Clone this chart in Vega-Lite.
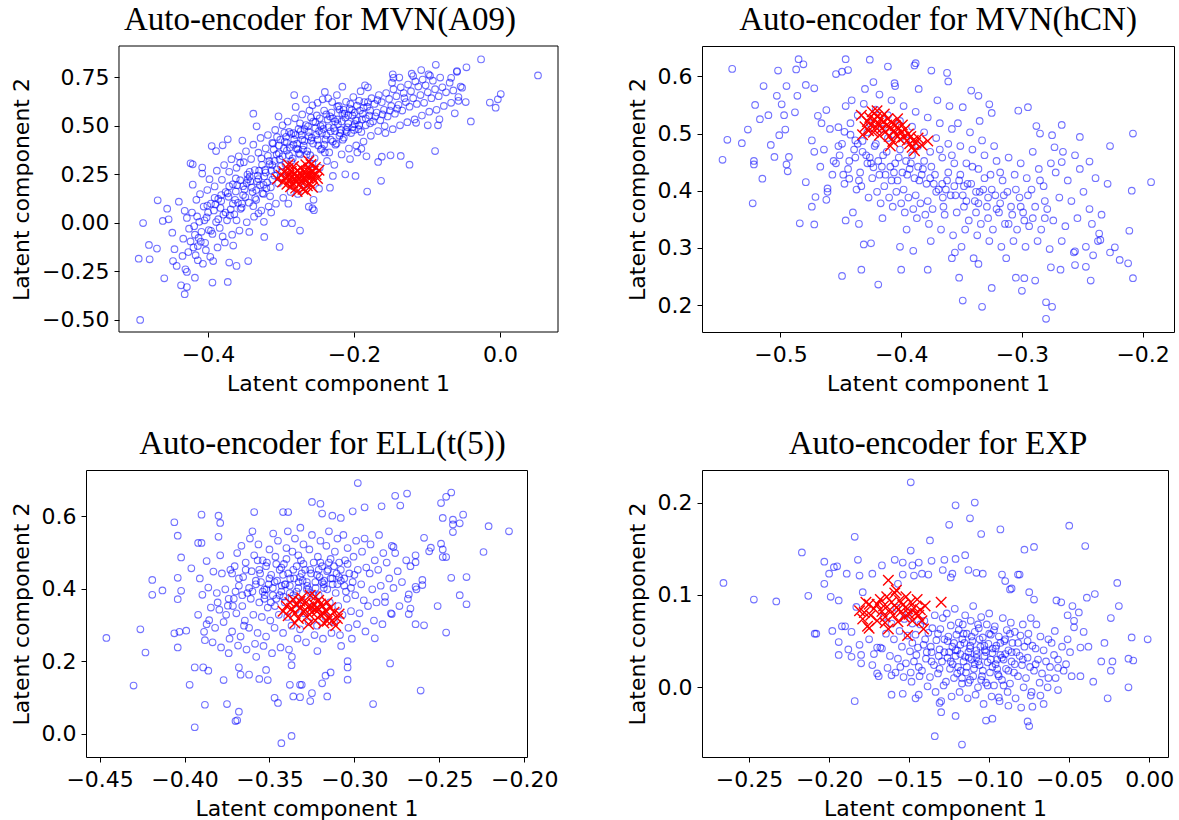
{
"$schema": "https://vega.github.io/schema/vega-lite/v6.json",
"background": "white",
"padding": {"left": 9, "top": 3, "right": 0, "bottom": 0},
"config": {
 "view": {"stroke": "#000", "strokeWidth": 1},
 "axis": {"grid": false, "domain": false, "tickColor": "#000", "tickSize": 5, "tickWidth": 1, "labelFont": "DejaVu Sans", "labelFontSize": 22, "labelColor": "#000", "labelPadding": 5, "titleFont": "DejaVu Sans", "titleFontSize": 22, "titleFontWeight": "normal", "titleColor": "#000", "labelOverlap": false, "labelFlush": false},
 "axisY": {"titlePadding": 8},
 "axisX": {"titlePadding": 8, "labelPadding": 7},
 "title": {"font": "Liberation Serif", "fontSize": 33, "fontWeight": "normal", "color": "#000", "offset": 9, "baseline": "alphabetic"}
},
"datasets": {
"b1": [
{"x":-0.493,"y":-0.502},{"x":-0.495,"y":-0.186},{"x":-0.489,"y":-0.002},{"x":-0.481,"y":-0.115},{"x":-0.480,"y":-0.189},{"x":-0.470,"y":-0.134},{"x":-0.469,"y":0.115},{"x":-0.460,"y":-0.287},{"x":-0.462,"y":0.009},{"x":-0.456,"y":0.072},{"x":-0.454,"y":0.017},{"x":-0.449,"y":-0.052},{"x":-0.448,"y":-0.198},{"x":-0.446,"y":-0.137},{"x":-0.443,"y":-0.223},{"x":-0.440,"y":0.108},{"x":-0.437,"y":-0.323},{"x":-0.432,"y":-0.369},{"x":-0.429,"y":-0.332},{"x":-0.435,"y":-0.172},{"x":-0.431,"y":-0.241},{"x":-0.429,"y":-0.254},{"x":-0.424,"y":0.306},{"x":-0.421,"y":0.301},{"x":-0.418,"y":-0.284},{"x":-0.414,"y":-0.194},{"x":-0.408,"y":0.284},{"x":-0.395,"y":0.395},{"x":-0.389,"y":0.369},{"x":-0.380,"y":0.399},{"x":-0.373,"y":0.430},{"x":-0.394,"y":-0.309},{"x":-0.373,"y":-0.306},{"x":-0.371,"y":-0.206},{"x":-0.361,"y":-0.223},{"x":-0.345,"y":-0.198},{"x":-0.338,"y":0.562},{"x":-0.302,"y":-0.125},{"x":-0.274,"y":-0.041},{"x":-0.285,"y":-0.003},{"x":-0.295,"y":-0.003},{"x":-0.323,"y":-0.074},{"x":-0.282,"y":0.658},{"x":-0.257,"y":0.074},{"x":-0.255,"y":0.064},{"x":-0.262,"y":0.082},{"x":-0.248,"y":0.175},{"x":-0.233,"y":0.180},{"x":-0.229,"y":0.241},{"x":-0.212,"y":0.249},{"x":-0.198,"y":0.241},{"x":-0.182,"y":0.160},{"x":-0.167,"y":0.313},{"x":-0.163,"y":0.216},{"x":-0.162,"y":0.340},{"x":-0.150,"y":0.347},{"x":-0.136,"y":0.344},{"x":-0.124,"y":0.299},{"x":-0.089,"y":0.369},{"x":-0.040,"y":0.522},{"x":-0.062,"y":0.564},{"x":-0.088,"y":0.814},{"x":-0.046,"y":0.801},{"x":-0.026,"y":0.842},{"x":0.052,"y":0.759},{"x":-0.014,"y":0.619},{"x":-0.006,"y":0.593},{"x":-0.003,"y":0.636},{"x":0.001,"y":0.663},{"x":-0.052,"y":0.696},{"x":-0.059,"y":0.782},{"x":-0.057,"y":0.648},{"x":-0.085,"y":0.502},{"x":-0.083,"y":0.533},{"x":-0.099,"y":0.502},{"x":-0.115,"y":0.515},{"x":-0.119,"y":0.756},{"x":-0.108,"y":0.787},{"x":-0.098,"y":0.765},{"x":-0.067,"y":0.747},{"x":-0.147,"y":0.765},{"x":-0.146,"y":0.747},{"x":-0.185,"y":0.708},{"x":-0.216,"y":0.701},{"x":-0.240,"y":0.674},{"x":-0.243,"y":0.636},{"x":-0.266,"y":0.636},{"x":-0.257,"y":0.605},
{"x":-0.427,"y":-0.152},{"x":-0.434,"y":-0.083},{"x":-0.429,"y":0.024},{"x":-0.432,"y":0.061},{"x":-0.426,"y":-0.031},
{"x":-0.417,"y":-0.168},{"x":-0.424,"y":-0.097},{"x":-0.419,"y":-0.018},{"x":-0.422,"y":0.052},{"x":-0.416,"y":0.118},{"x":-0.421,"y":0.196},{"x":-0.418,"y":-0.062},
{"x":-0.407,"y":-0.212},{"x":-0.414,"y":-0.121},{"x":-0.409,"y":-0.047},{"x":-0.412,"y":0.004},{"x":-0.406,"y":0.083},{"x":-0.411,"y":0.147},{"x":-0.408,"y":0.253},{"x":-0.413,"y":-0.079},
{"x":-0.397,"y":-0.176},{"x":-0.404,"y":-0.104},{"x":-0.399,"y":-0.038},{"x":-0.402,"y":0.027},{"x":-0.396,"y":0.098},{"x":-0.401,"y":0.168},{"x":-0.398,"y":0.224},{"x":-0.403,"y":-0.142},{"x":-0.400,"y":0.052},
{"x":-0.387,"y":-0.128},{"x":-0.394,"y":-0.058},{"x":-0.389,"y":0.003},{"x":-0.392,"y":0.063},{"x":-0.386,"y":0.122},{"x":-0.391,"y":0.187},{"x":-0.388,"y":0.268},{"x":-0.393,"y":-0.198},{"x":-0.390,"y":0.094},
{"x":-0.377,"y":-0.102},{"x":-0.384,"y":-0.027},{"x":-0.379,"y":0.041},{"x":-0.382,"y":0.112},{"x":-0.376,"y":0.158},{"x":-0.381,"y":0.221},{"x":-0.378,"y":0.297},{"x":-0.383,"y":0.076},{"x":-0.380,"y":-0.071},
{"x":-0.367,"y":-0.062},{"x":-0.374,"y":0.012},{"x":-0.369,"y":0.068},{"x":-0.372,"y":0.133},{"x":-0.366,"y":0.198},{"x":-0.371,"y":0.262},{"x":-0.368,"y":0.327},{"x":-0.373,"y":0.151},{"x":-0.370,"y":0.037},{"x":-0.3655,"y":-0.118},
{"x":-0.357,"y":-0.041},{"x":-0.364,"y":0.043},{"x":-0.359,"y":0.102},{"x":-0.362,"y":0.161},{"x":-0.356,"y":0.219},{"x":-0.361,"y":0.283},{"x":-0.358,"y":0.342},{"x":-0.363,"y":0.118},{"x":-0.360,"y":0.193},{"x":-0.3555,"y":0.071},
{"x":-0.347,"y":0.002},{"x":-0.354,"y":0.078},{"x":-0.349,"y":0.132},{"x":-0.352,"y":0.188},{"x":-0.346,"y":0.248},{"x":-0.351,"y":0.312},{"x":-0.348,"y":0.368},{"x":-0.353,"y":0.423},{"x":-0.350,"y":0.171},{"x":-0.3455,"y":0.224},{"x":-0.3535,"y":0.098},
{"x":-0.337,"y":0.031},{"x":-0.344,"y":0.103},{"x":-0.339,"y":0.158},{"x":-0.342,"y":0.213},{"x":-0.336,"y":0.271},{"x":-0.341,"y":0.328},{"x":-0.338,"y":0.402},{"x":-0.343,"y":0.238},{"x":-0.340,"y":0.181},{"x":-0.3355,"y":0.127},{"x":-0.3435,"y":-0.048},
{"x":-0.327,"y":0.062},{"x":-0.334,"y":0.118},{"x":-0.329,"y":0.193},{"x":-0.332,"y":0.242},{"x":-0.326,"y":0.298},{"x":-0.331,"y":0.361},{"x":-0.328,"y":0.437},{"x":-0.333,"y":0.212},{"x":-0.330,"y":0.268},{"x":-0.3255,"y":0.152},{"x":-0.3335,"y":0.497},
{"x":-0.317,"y":0.083},{"x":-0.324,"y":0.148},{"x":-0.319,"y":0.207},{"x":-0.322,"y":0.272},{"x":-0.316,"y":0.318},{"x":-0.321,"y":0.383},{"x":-0.318,"y":0.452},{"x":-0.323,"y":0.238},{"x":-0.320,"y":0.177},{"x":-0.3155,"y":0.302},{"x":-0.3235,"y":0.004},
{"x":-0.307,"y":0.098},{"x":-0.314,"y":0.182},{"x":-0.309,"y":0.243},{"x":-0.312,"y":0.297},{"x":-0.306,"y":0.352},{"x":-0.311,"y":0.408},{"x":-0.308,"y":0.478},{"x":-0.313,"y":0.268},{"x":-0.310,"y":0.377},{"x":-0.3055,"y":0.442},{"x":-0.3135,"y":0.052},
{"x":-0.297,"y":0.128},{"x":-0.304,"y":0.203},{"x":-0.299,"y":0.262},{"x":-0.302,"y":0.327},{"x":-0.296,"y":0.383},{"x":-0.301,"y":0.428},{"x":-0.298,"y":0.502},{"x":-0.303,"y":0.358},{"x":-0.300,"y":0.291},{"x":-0.2955,"y":0.463},{"x":-0.3035,"y":0.548},
{"x":-0.287,"y":0.158},{"x":-0.294,"y":0.302},{"x":-0.289,"y":0.348},{"x":-0.292,"y":0.412},{"x":-0.286,"y":0.458},{"x":-0.291,"y":0.521},{"x":-0.288,"y":0.388},{"x":-0.293,"y":0.443},{"x":-0.290,"y":0.098},
{"x":-0.277,"y":0.148},{"x":-0.284,"y":0.331},{"x":-0.279,"y":0.382},{"x":-0.282,"y":0.428},{"x":-0.276,"y":0.483},{"x":-0.281,"y":0.538},{"x":-0.278,"y":0.407},{"x":-0.283,"y":0.462},{"x":-0.280,"y":0.597},{"x":-0.2755,"y":0.358},
{"x":-0.267,"y":0.197},{"x":-0.274,"y":0.352},{"x":-0.269,"y":0.398},{"x":-0.272,"y":0.452},{"x":-0.266,"y":0.503},{"x":-0.271,"y":0.558},{"x":-0.268,"y":0.421},{"x":-0.273,"y":0.473},{"x":-0.270,"y":0.377},
{"x":-0.257,"y":0.302},{"x":-0.264,"y":0.368},{"x":-0.259,"y":0.423},{"x":-0.262,"y":0.468},{"x":-0.256,"y":0.521},{"x":-0.261,"y":0.578},{"x":-0.258,"y":0.438},{"x":-0.263,"y":0.497},{"x":-0.260,"y":0.348},{"x":-0.2555,"y":0.118},
{"x":-0.247,"y":0.283},{"x":-0.254,"y":0.332},{"x":-0.249,"y":0.398},{"x":-0.252,"y":0.452},{"x":-0.246,"y":0.498},{"x":-0.251,"y":0.553},{"x":-0.248,"y":0.472},{"x":-0.253,"y":0.518},{"x":-0.250,"y":0.618},{"x":-0.2455,"y":0.377},
{"x":-0.237,"y":0.318},{"x":-0.244,"y":0.382},{"x":-0.239,"y":0.428},{"x":-0.242,"y":0.483},{"x":-0.236,"y":0.532},{"x":-0.241,"y":0.578},{"x":-0.238,"y":0.452},{"x":-0.243,"y":0.503},{"x":-0.240,"y":0.362},{"x":-0.2355,"y":0.641},
{"x":-0.227,"y":0.298},{"x":-0.234,"y":0.362},{"x":-0.229,"y":0.418},{"x":-0.232,"y":0.471},{"x":-0.226,"y":0.522},{"x":-0.231,"y":0.568},{"x":-0.228,"y":0.488},{"x":-0.233,"y":0.548},{"x":-0.230,"y":0.622},{"x":-0.2255,"y":0.402},
{"x":-0.217,"y":0.352},{"x":-0.224,"y":0.408},{"x":-0.219,"y":0.462},{"x":-0.222,"y":0.508},{"x":-0.216,"y":0.562},{"x":-0.221,"y":0.602},{"x":-0.218,"y":0.478},{"x":-0.223,"y":0.532},{"x":-0.220,"y":0.583},{"x":-0.2155,"y":0.428},{"x":-0.2235,"y":0.658},
{"x":-0.207,"y":0.382},{"x":-0.214,"y":0.438},{"x":-0.209,"y":0.492},{"x":-0.212,"y":0.541},{"x":-0.206,"y":0.588},{"x":-0.211,"y":0.623},{"x":-0.208,"y":0.512},{"x":-0.213,"y":0.562},{"x":-0.210,"y":0.468},{"x":-0.2055,"y":0.328},
{"x":-0.197,"y":0.398},{"x":-0.204,"y":0.462},{"x":-0.199,"y":0.508},{"x":-0.202,"y":0.552},{"x":-0.196,"y":0.603},{"x":-0.201,"y":0.648},{"x":-0.198,"y":0.528},{"x":-0.203,"y":0.582},{"x":-0.200,"y":0.478},{"x":-0.1955,"y":0.362},
{"x":-0.187,"y":0.418},{"x":-0.194,"y":0.482},{"x":-0.189,"y":0.532},{"x":-0.192,"y":0.578},{"x":-0.186,"y":0.622},{"x":-0.191,"y":0.678},{"x":-0.188,"y":0.561},{"x":-0.193,"y":0.503},{"x":-0.190,"y":0.381},
{"x":-0.177,"y":0.448},{"x":-0.184,"y":0.502},{"x":-0.179,"y":0.552},{"x":-0.182,"y":0.598},{"x":-0.176,"y":0.642},{"x":-0.181,"y":0.698},{"x":-0.178,"y":0.578},{"x":-0.183,"y":0.342},
{"x":-0.167,"y":0.472},{"x":-0.174,"y":0.522},{"x":-0.169,"y":0.568},{"x":-0.172,"y":0.612},{"x":-0.166,"y":0.658},{"x":-0.171,"y":0.548},{"x":-0.168,"y":0.632},
{"x":-0.157,"y":0.462},{"x":-0.164,"y":0.528},{"x":-0.159,"y":0.582},{"x":-0.162,"y":0.621},{"x":-0.156,"y":0.668},{"x":-0.161,"y":0.558},{"x":-0.158,"y":0.498},
{"x":-0.147,"y":0.482},{"x":-0.154,"y":0.548},{"x":-0.149,"y":0.602},{"x":-0.152,"y":0.638},{"x":-0.146,"y":0.688},{"x":-0.151,"y":0.578},{"x":-0.148,"y":0.722},
{"x":-0.137,"y":0.502},{"x":-0.144,"y":0.562},{"x":-0.139,"y":0.608},{"x":-0.142,"y":0.652},{"x":-0.136,"y":0.698},{"x":-0.141,"y":0.588},{"x":-0.138,"y":0.748},
{"x":-0.127,"y":0.518},{"x":-0.134,"y":0.578},{"x":-0.129,"y":0.622},{"x":-0.132,"y":0.668},{"x":-0.126,"y":0.712},{"x":-0.131,"y":0.642},
{"x":-0.117,"y":0.532},{"x":-0.124,"y":0.598},{"x":-0.119,"y":0.642},{"x":-0.122,"y":0.678},{"x":-0.116,"y":0.728},{"x":-0.121,"y":0.768},
{"x":-0.107,"y":0.552},{"x":-0.114,"y":0.612},{"x":-0.109,"y":0.658},{"x":-0.112,"y":0.702},{"x":-0.106,"y":0.738},
{"x":-0.097,"y":0.572},{"x":-0.104,"y":0.618},{"x":-0.099,"y":0.672},{"x":-0.102,"y":0.708},{"x":-0.096,"y":0.758},
{"x":-0.087,"y":0.582},{"x":-0.094,"y":0.642},{"x":-0.089,"y":0.688},{"x":-0.092,"y":0.732},
{"x":-0.077,"y":0.602},{"x":-0.084,"y":0.652},{"x":-0.079,"y":0.698},{"x":-0.082,"y":0.748},
{"x":-0.067,"y":0.618},{"x":-0.074,"y":0.672},{"x":-0.069,"y":0.722},
{"x":-0.057,"y":0.628},{"x":-0.064,"y":0.682},{"x":-0.059,"y":0.778},
{"x":-0.047,"y":0.622},{"x":-0.054,"y":0.702},
{"x":-0.352,"y":0.142},{"x":-0.347,"y":0.205},{"x":-0.343,"y":0.262},{"x":-0.338,"y":0.085},{"x":-0.334,"y":0.168},{"x":-0.331,"y":0.225},{"x":-0.327,"y":0.331},{"x":-0.324,"y":0.195},{"x":-0.321,"y":0.258},{"x":-0.318,"y":0.345},{"x":-0.315,"y":0.136},{"x":-0.312,"y":0.222},{"x":-0.309,"y":0.318},{"x":-0.306,"y":0.275},{"x":-0.303,"y":0.398},{"x":-0.301,"y":0.232},{"x":-0.298,"y":0.342},{"x":-0.295,"y":0.418},{"x":-0.292,"y":0.372},{"x":-0.289,"y":0.468},{"x":-0.286,"y":0.318},{"x":-0.283,"y":0.402},{"x":-0.280,"y":0.452},{"x":-0.277,"y":0.378},{"x":-0.274,"y":0.512},{"x":-0.271,"y":0.428},{"x":-0.268,"y":0.482},{"x":-0.265,"y":0.352},{"x":-0.262,"y":0.445},{"x":-0.259,"y":0.542},{"x":-0.256,"y":0.408},{"x":-0.253,"y":0.488},{"x":-0.250,"y":0.428},{"x":-0.247,"y":0.538},{"x":-0.244,"y":0.462},{"x":-0.241,"y":0.402},{"x":-0.238,"y":0.558},{"x":-0.235,"y":0.492},{"x":-0.232,"y":0.428},{"x":-0.229,"y":0.538},{"x":-0.226,"y":0.472},{"x":-0.223,"y":0.598},{"x":-0.220,"y":0.448},{"x":-0.217,"y":0.522},{"x":-0.214,"y":0.582},{"x":-0.211,"y":0.478},{"x":-0.208,"y":0.552},{"x":-0.205,"y":0.612},{"x":-0.202,"y":0.492},{"x":-0.199,"y":0.568},{"x":-0.196,"y":0.528},{"x":-0.193,"y":0.628},{"x":-0.190,"y":0.468},{"x":-0.187,"y":0.592},{"x":-0.184,"y":0.538},{"x":-0.181,"y":0.622},{"x":-0.178,"y":0.512},{"x":-0.362,"y":0.228},{"x":-0.366,"y":0.098},{"x":-0.371,"y":0.188},{"x":-0.376,"y":0.052},{"x":-0.382,"y":0.142},{"x":-0.386,"y":0.018},{"x":-0.391,"y":0.128},{"x":-0.396,"y":-0.042},{"x":-0.401,"y":0.088},{"x":-0.405,"y":0.012},{"x":-0.410,"y":-0.098},{"x":-0.415,"y":0.032},{"x":-0.420,"y":-0.128},{"x":-0.356,"y":0.308},{"x":-0.361,"y":0.012},{"x":-0.331,"y":0.048},{"x":-0.312,"y":0.412}
],
"r1": [
{"x":-0.305,"y":0.225},{"x":-0.300,"y":0.245},{"x":-0.298,"y":0.210},{"x":-0.296,"y":0.262},{"x":-0.294,"y":0.232},{"x":-0.292,"y":0.198},{"x":-0.291,"y":0.278},{"x":-0.289,"y":0.245},{"x":-0.288,"y":0.222},{"x":-0.287,"y":0.185},{"x":-0.286,"y":0.265},{"x":-0.285,"y":0.238},{"x":-0.284,"y":0.205},{"x":-0.283,"y":0.290},{"x":-0.282,"y":0.252},{"x":-0.281,"y":0.228},{"x":-0.280,"y":0.178},{"x":-0.279,"y":0.212},{"x":-0.278,"y":0.268},{"x":-0.277,"y":0.240},{"x":-0.276,"y":0.195},{"x":-0.275,"y":0.225},{"x":-0.274,"y":0.258},{"x":-0.273,"y":0.282},{"x":-0.272,"y":0.208},{"x":-0.271,"y":0.242},{"x":-0.270,"y":0.172},{"x":-0.269,"y":0.230},{"x":-0.268,"y":0.265},{"x":-0.267,"y":0.215},{"x":-0.266,"y":0.298},{"x":-0.265,"y":0.248},{"x":-0.264,"y":0.190},{"x":-0.263,"y":0.232},{"x":-0.262,"y":0.275},{"x":-0.261,"y":0.205},{"x":-0.260,"y":0.255},{"x":-0.259,"y":0.300},{"x":-0.258,"y":0.238},{"x":-0.257,"y":0.182},{"x":-0.256,"y":0.265},{"x":-0.255,"y":0.220},{"x":-0.253,"y":0.285},{"x":-0.252,"y":0.248},{"x":-0.250,"y":0.228},{"x":-0.262,"y":0.318},{"x":-0.290,"y":0.300},{"x":-0.266,"y":0.165},{"x":-0.278,"y":0.160},{"x":-0.248,"y":0.270}
],
"b2": [
{"x":-0.548,"y":0.454},{"x":-0.544,"y":0.489},{"x":-0.540,"y":0.613},{"x":-0.532,"y":0.483},{"x":-0.527,"y":0.507},{"x":-0.523,"y":0.378},{"x":-0.522,"y":0.452},{"x":-0.522,"y":0.446},{"x":-0.521,"y":0.550},{"x":-0.515,"y":0.421},{"x":-0.514,"y":0.583},{"x":-0.517,"y":0.525},{"x":-0.510,"y":0.532},{"x":-0.508,"y":0.480},{"x":-0.505,"y":0.459},{"x":-0.503,"y":0.566},{"x":-0.502,"y":0.610},{"x":-0.501,"y":0.497},{"x":-0.499,"y":0.551},{"x":-0.497,"y":0.532},{"x":-0.496,"y":0.507},{"x":-0.495,"y":0.583},{"x":-0.495,"y":0.446},{"x":-0.494,"y":0.434},{"x":-0.493,"y":0.459},{"x":-0.487,"y":0.612},{"x":-0.486,"y":0.566},{"x":-0.485,"y":0.630},{"x":-0.481,"y":0.621},{"x":-0.488,"y":0.537},{"x":-0.484,"y":0.343},{"x":-0.479,"y":0.585},{"x":-0.479,"y":0.415},{"x":-0.472,"y":0.579},{"x":-0.472,"y":0.341},{"x":-0.471,"y":0.389},{"x":-0.474,"y":0.372},{"x":-0.462,"y":0.384},{"x":-0.461,"y":0.404},{"x":-0.454,"y":0.604},{"x":-0.449,"y":0.608},{"x":-0.446,"y":0.630},{"x":-0.444,"y":0.611},{"x":-0.449,"y":0.251},{"x":-0.446,"y":0.348},{"x":-0.435,"y":0.342},{"x":-0.433,"y":0.262},{"x":-0.431,"y":0.306},{"x":-0.425,"y":0.308},{"x":-0.419,"y":0.236},{"x":-0.426,"y":0.629},{"x":-0.423,"y":0.590},{"x":-0.411,"y":0.617},{"x":-0.405,"y":0.583},{"x":-0.401,"y":0.302},{"x":-0.400,"y":0.262},{"x":-0.390,"y":0.295},{"x":-0.389,"y":0.619},{"x":-0.388,"y":0.623},{"x":-0.378,"y":0.262},{"x":-0.375,"y":0.610},{"x":-0.362,"y":0.606},{"x":-0.361,"y":0.591},{"x":-0.358,"y":0.282},{"x":-0.352,"y":0.248},{"x":-0.349,"y":0.208},{"x":-0.333,"y":0.197},{"x":-0.325,"y":0.230},{"x":-0.336,"y":0.272},{"x":-0.305,"y":0.248},{"x":-0.300,"y":0.225},{"x":-0.298,"y":0.247},{"x":-0.289,"y":0.243},{"x":-0.280,"y":0.205},{"x":-0.280,"y":0.176},{"x":-0.275,"y":0.197},{"x":-0.268,"y":0.262},{"x":-0.276,"y":0.266},{"x":-0.256,"y":0.294},{"x":-0.256,"y":0.270},{"x":-0.247,"y":0.267},{"x":-0.243,"y":0.243},{"x":-0.241,"y":0.287},{"x":-0.235,"y":0.314},{"x":-0.236,"y":0.325},{"x":-0.227,"y":0.478},{"x":-0.223,"y":0.301},{"x":-0.219,"y":0.279},{"x":-0.212,"y":0.273},{"x":-0.211,"y":0.330},{"x":-0.208,"y":0.247},{"x":-0.209,"y":0.400},{"x":-0.208,"y":0.500},{"x":-0.193,"y":0.415},{"x":-0.242,"y":0.342},{"x":-0.244,"y":0.451},{"x":-0.252,"y":0.494},{"x":-0.267,"y":0.515},{"x":-0.295,"y":0.546},{"x":-0.303,"y":0.540},{"x":-0.267,"y":0.450},{"x":-0.273,"y":0.476},{"x":-0.275,"y":0.497},{"x":-0.285,"y":0.500},{"x":-0.288,"y":0.513},{"x":-0.327,"y":0.551},{"x":-0.325,"y":0.536},{"x":-0.336,"y":0.566},{"x":-0.342,"y":0.575},{"x":-0.335,"y":0.522},{"x":-0.349,"y":0.546},
{"x":-0.467,"y":0.442},{"x":-0.474,"y":0.488},{"x":-0.469,"y":0.531},{"x":-0.472,"y":0.468},{"x":-0.466,"y":0.518},
{"x":-0.457,"y":0.428},{"x":-0.464,"y":0.472},{"x":-0.459,"y":0.508},{"x":-0.462,"y":0.541},{"x":-0.456,"y":0.452},{"x":-0.461,"y":0.398},
{"x":-0.447,"y":0.412},{"x":-0.454,"y":0.448},{"x":-0.449,"y":0.482},{"x":-0.452,"y":0.511},{"x":-0.446,"y":0.548},{"x":-0.451,"y":0.462},{"x":-0.448,"y":0.428},
{"x":-0.437,"y":0.402},{"x":-0.444,"y":0.438},{"x":-0.439,"y":0.472},{"x":-0.442,"y":0.498},{"x":-0.436,"y":0.532},{"x":-0.441,"y":0.558},{"x":-0.438,"y":0.458},{"x":-0.443,"y":0.421},{"x":-0.440,"y":0.362},
{"x":-0.427,"y":0.388},{"x":-0.434,"y":0.432},{"x":-0.429,"y":0.462},{"x":-0.432,"y":0.487},{"x":-0.426,"y":0.518},{"x":-0.431,"y":0.552},{"x":-0.428,"y":0.448},{"x":-0.433,"y":0.408},{"x":-0.430,"y":0.578},
{"x":-0.417,"y":0.378},{"x":-0.424,"y":0.422},{"x":-0.419,"y":0.452},{"x":-0.422,"y":0.478},{"x":-0.416,"y":0.508},{"x":-0.421,"y":0.542},{"x":-0.418,"y":0.568},{"x":-0.423,"y":0.441},{"x":-0.420,"y":0.398},{"x":-0.4155,"y":0.352},
{"x":-0.407,"y":0.372},{"x":-0.414,"y":0.408},{"x":-0.409,"y":0.442},{"x":-0.412,"y":0.468},{"x":-0.406,"y":0.498},{"x":-0.411,"y":0.532},{"x":-0.408,"y":0.558},{"x":-0.413,"y":0.428},{"x":-0.410,"y":0.388},{"x":-0.4055,"y":0.588},
{"x":-0.397,"y":0.362},{"x":-0.404,"y":0.398},{"x":-0.399,"y":0.432},{"x":-0.402,"y":0.458},{"x":-0.396,"y":0.488},{"x":-0.401,"y":0.522},{"x":-0.398,"y":0.548},{"x":-0.403,"y":0.418},{"x":-0.400,"y":0.378},{"x":-0.3955,"y":0.332},
{"x":-0.387,"y":0.352},{"x":-0.394,"y":0.388},{"x":-0.389,"y":0.422},{"x":-0.392,"y":0.448},{"x":-0.386,"y":0.478},{"x":-0.391,"y":0.512},{"x":-0.388,"y":0.538},{"x":-0.393,"y":0.438},{"x":-0.390,"y":0.368},{"x":-0.3855,"y":0.578},
{"x":-0.377,"y":0.342},{"x":-0.384,"y":0.378},{"x":-0.379,"y":0.412},{"x":-0.382,"y":0.438},{"x":-0.376,"y":0.468},{"x":-0.381,"y":0.502},{"x":-0.378,"y":0.528},{"x":-0.383,"y":0.428},{"x":-0.380,"y":0.358},{"x":-0.3755,"y":0.312},
{"x":-0.367,"y":0.332},{"x":-0.374,"y":0.368},{"x":-0.369,"y":0.402},{"x":-0.372,"y":0.428},{"x":-0.366,"y":0.458},{"x":-0.371,"y":0.492},{"x":-0.368,"y":0.518},{"x":-0.373,"y":0.412},{"x":-0.370,"y":0.558},{"x":-0.3655,"y":0.388},
{"x":-0.357,"y":0.322},{"x":-0.364,"y":0.358},{"x":-0.359,"y":0.392},{"x":-0.362,"y":0.418},{"x":-0.356,"y":0.448},{"x":-0.361,"y":0.482},{"x":-0.358,"y":0.508},{"x":-0.363,"y":0.402},{"x":-0.360,"y":0.548},{"x":-0.3555,"y":0.292},
{"x":-0.347,"y":0.332},{"x":-0.354,"y":0.362},{"x":-0.349,"y":0.392},{"x":-0.352,"y":0.418},{"x":-0.346,"y":0.448},{"x":-0.351,"y":0.478},{"x":-0.348,"y":0.408},{"x":-0.353,"y":0.518},{"x":-0.350,"y":0.302},
{"x":-0.337,"y":0.322},{"x":-0.344,"y":0.348},{"x":-0.339,"y":0.382},{"x":-0.342,"y":0.412},{"x":-0.336,"y":0.438},{"x":-0.341,"y":0.472},{"x":-0.338,"y":0.398},{"x":-0.343,"y":0.502},{"x":-0.340,"y":0.282},
{"x":-0.327,"y":0.312},{"x":-0.334,"y":0.342},{"x":-0.329,"y":0.372},{"x":-0.332,"y":0.402},{"x":-0.326,"y":0.428},{"x":-0.331,"y":0.462},{"x":-0.328,"y":0.388},{"x":-0.333,"y":0.488},
{"x":-0.317,"y":0.302},{"x":-0.324,"y":0.332},{"x":-0.319,"y":0.362},{"x":-0.322,"y":0.392},{"x":-0.316,"y":0.418},{"x":-0.321,"y":0.452},{"x":-0.318,"y":0.378},{"x":-0.323,"y":0.478},
{"x":-0.307,"y":0.312},{"x":-0.314,"y":0.342},{"x":-0.309,"y":0.372},{"x":-0.312,"y":0.398},{"x":-0.306,"y":0.428},{"x":-0.311,"y":0.458},{"x":-0.308,"y":0.358},{"x":-0.313,"y":0.282},
{"x":-0.297,"y":0.302},{"x":-0.304,"y":0.332},{"x":-0.299,"y":0.362},{"x":-0.302,"y":0.388},{"x":-0.296,"y":0.422},{"x":-0.301,"y":0.448},{"x":-0.298,"y":0.348},
{"x":-0.287,"y":0.312},{"x":-0.294,"y":0.338},{"x":-0.289,"y":0.372},{"x":-0.292,"y":0.402},{"x":-0.286,"y":0.438},{"x":-0.291,"y":0.468},
{"x":-0.277,"y":0.298},{"x":-0.284,"y":0.332},{"x":-0.279,"y":0.368},{"x":-0.282,"y":0.408},{"x":-0.276,"y":0.448},{"x":-0.281,"y":0.352},
{"x":-0.267,"y":0.312},{"x":-0.274,"y":0.348},{"x":-0.269,"y":0.388},{"x":-0.272,"y":0.432},{"x":-0.266,"y":0.468},
{"x":-0.257,"y":0.292},{"x":-0.264,"y":0.338},{"x":-0.259,"y":0.382},{"x":-0.262,"y":0.418},{"x":-0.256,"y":0.462},
{"x":-0.247,"y":0.302},{"x":-0.254,"y":0.352},{"x":-0.249,"y":0.398},{"x":-0.252,"y":0.438},
{"x":-0.237,"y":0.312},{"x":-0.244,"y":0.368},{"x":-0.239,"y":0.422},
{"x":-0.227,"y":0.292},{"x":-0.234,"y":0.358},{"x":-0.229,"y":0.412},
{"x":-0.452,"y":0.478},{"x":-0.447,"y":0.503},{"x":-0.443,"y":0.452},{"x":-0.438,"y":0.488},{"x":-0.435,"y":0.418},{"x":-0.432,"y":0.468},{"x":-0.428,"y":0.502},{"x":-0.425,"y":0.448},{"x":-0.421,"y":0.482},{"x":-0.418,"y":0.428},{"x":-0.415,"y":0.462},{"x":-0.411,"y":0.492},{"x":-0.408,"y":0.418},{"x":-0.405,"y":0.448},{"x":-0.401,"y":0.472},{"x":-0.398,"y":0.402},{"x":-0.395,"y":0.428},{"x":-0.391,"y":0.462},{"x":-0.388,"y":0.392},{"x":-0.385,"y":0.418},{"x":-0.381,"y":0.452},{"x":-0.378,"y":0.382},{"x":-0.375,"y":0.442},{"x":-0.371,"y":0.398},{"x":-0.368,"y":0.472},{"x":-0.365,"y":0.372},{"x":-0.361,"y":0.432},{"x":-0.358,"y":0.462},{"x":-0.355,"y":0.392},{"x":-0.351,"y":0.428},{"x":-0.348,"y":0.372},{"x":-0.345,"y":0.412},{"x":-0.341,"y":0.442},{"x":-0.338,"y":0.362},{"x":-0.335,"y":0.398},{"x":-0.331,"y":0.422},{"x":-0.328,"y":0.352},{"x":-0.325,"y":0.402},{"x":-0.321,"y":0.368},{"x":-0.318,"y":0.432},{"x":-0.315,"y":0.392},{"x":-0.311,"y":0.342},{"x":-0.305,"y":0.402},{"x":-0.301,"y":0.372},{"x":-0.295,"y":0.392},{"x":-0.291,"y":0.352},{"x":-0.285,"y":0.418},{"x":-0.281,"y":0.382},{"x":-0.442,"y":0.518},{"x":-0.436,"y":0.482},{"x":-0.426,"y":0.458},{"x":-0.416,"y":0.442},{"x":-0.406,"y":0.432},{"x":-0.396,"y":0.452},{"x":-0.386,"y":0.442},{"x":-0.376,"y":0.422},{"x":-0.366,"y":0.412},{"x":-0.356,"y":0.408},{"x":-0.346,"y":0.382},{"x":-0.336,"y":0.378}
],
"r2": [
{"x":-0.433,"y":0.532},{"x":-0.432,"y":0.498},{"x":-0.430,"y":0.512},{"x":-0.428,"y":0.521},{"x":-0.427,"y":0.505},{"x":-0.426,"y":0.528},{"x":-0.425,"y":0.515},{"x":-0.424,"y":0.538},{"x":-0.423,"y":0.502},{"x":-0.422,"y":0.524},{"x":-0.421,"y":0.511},{"x":-0.420,"y":0.530},{"x":-0.419,"y":0.518},{"x":-0.418,"y":0.497},{"x":-0.417,"y":0.526},{"x":-0.416,"y":0.509},{"x":-0.415,"y":0.520},{"x":-0.414,"y":0.534},{"x":-0.413,"y":0.503},{"x":-0.412,"y":0.515},{"x":-0.411,"y":0.526},{"x":-0.410,"y":0.495},{"x":-0.409,"y":0.510},{"x":-0.408,"y":0.519},{"x":-0.407,"y":0.486},{"x":-0.406,"y":0.505},{"x":-0.405,"y":0.514},{"x":-0.404,"y":0.498},{"x":-0.403,"y":0.526},{"x":-0.402,"y":0.509},{"x":-0.401,"y":0.490},{"x":-0.400,"y":0.502},{"x":-0.399,"y":0.515},{"x":-0.398,"y":0.494},{"x":-0.397,"y":0.507},{"x":-0.395,"y":0.488},{"x":-0.394,"y":0.499},{"x":-0.393,"y":0.482},{"x":-0.392,"y":0.495},{"x":-0.391,"y":0.476},{"x":-0.390,"y":0.488},{"x":-0.389,"y":0.470},{"x":-0.388,"y":0.484},{"x":-0.386,"y":0.492},{"x":-0.383,"y":0.480},{"x":-0.378,"y":0.487},{"x":-0.409,"y":0.478},{"x":-0.420,"y":0.540}
],
"b3": [
{"x":-0.446,"y":0.264},{"x":-0.430,"y":0.133},{"x":-0.426,"y":0.288},{"x":-0.423,"y":0.224},{"x":-0.419,"y":0.424},{"x":-0.419,"y":0.383},{"x":-0.413,"y":0.395},{"x":-0.406,"y":0.583},{"x":-0.404,"y":0.546},{"x":-0.402,"y":0.486},{"x":-0.406,"y":0.277},{"x":-0.404,"y":0.238},{"x":-0.403,"y":0.281},{"x":-0.404,"y":0.430},{"x":-0.404,"y":0.371},{"x":-0.402,"y":0.394},{"x":-0.396,"y":0.456},{"x":-0.399,"y":0.284},{"x":-0.397,"y":0.135},{"x":-0.394,"y":0.018},{"x":-0.394,"y":0.183},{"x":-0.390,"y":0.604},{"x":-0.392,"y":0.526},{"x":-0.390,"y":0.526},{"x":-0.387,"y":0.476},{"x":-0.389,"y":0.183},{"x":-0.388,"y":0.080},{"x":-0.386,"y":0.174},{"x":-0.380,"y":0.601},{"x":-0.379,"y":0.581},{"x":-0.380,"y":0.543},{"x":-0.377,"y":0.148},{"x":-0.375,"y":0.082},{"x":-0.369,"y":0.037},{"x":-0.368,"y":0.061},{"x":-0.370,"y":0.035},{"x":-0.368,"y":0.183},{"x":-0.367,"y":0.163},{"x":-0.362,"y":0.163},{"x":-0.360,"y":0.558},{"x":-0.359,"y":0.611},{"x":-0.356,"y":0.151},{"x":-0.352,"y":0.176},{"x":-0.351,"y":0.148},{"x":-0.347,"y":0.099},{"x":-0.345,"y":0.085},{"x":-0.343,"y":-0.026},{"x":-0.342,"y":0.611},{"x":-0.339,"y":0.611},{"x":-0.338,"y":0.135},{"x":-0.337,"y":0.189},{"x":-0.337,"y":-0.006},{"x":-0.336,"y":0.103},{"x":-0.332,"y":0.101},{"x":-0.332,"y":0.135},{"x":-0.331,"y":0.135},{"x":-0.325,"y":0.639},{"x":-0.320,"y":0.634},{"x":-0.325,"y":0.112},{"x":-0.326,"y":0.090},{"x":-0.319,"y":0.607},{"x":-0.313,"y":0.601},{"x":-0.316,"y":0.103},{"x":-0.319,"y":0.139},{"x":-0.317,"y":0.160},{"x":-0.314,"y":0.169},{"x":-0.308,"y":0.595},{"x":-0.304,"y":0.149},{"x":-0.304,"y":0.183},{"x":-0.304,"y":0.200},{"x":-0.298,"y":0.691},{"x":-0.301,"y":0.613},{"x":-0.294,"y":0.624},{"x":-0.289,"y":0.082},{"x":-0.288,"y":0.263},{"x":-0.284,"y":0.627},{"x":-0.279,"y":0.194},{"x":-0.276,"y":0.656},{"x":-0.273,"y":0.629},{"x":-0.269,"y":0.662},{"x":-0.264,"y":0.302},{"x":-0.259,"y":0.299},{"x":-0.261,"y":0.119},{"x":-0.251,"y":0.352},{"x":-0.249,"y":0.636},{"x":-0.246,"y":0.653},{"x":-0.243,"y":0.665},{"x":-0.248,"y":0.595},{"x":-0.242,"y":0.590},{"x":-0.242,"y":0.556},{"x":-0.242,"y":0.577},{"x":-0.238,"y":0.580},{"x":-0.236,"y":0.604},{"x":-0.249,"y":0.524},{"x":-0.248,"y":0.508},{"x":-0.248,"y":0.487},{"x":-0.246,"y":0.487},{"x":-0.246,"y":0.279},{"x":-0.243,"y":0.430},{"x":-0.238,"y":0.382},{"x":-0.234,"y":0.357},{"x":-0.234,"y":0.432},{"x":-0.224,"y":0.501},{"x":-0.221,"y":0.572},{"x":-0.209,"y":0.558},{"x":-0.256,"y":0.503},{"x":-0.255,"y":0.513},{"x":-0.259,"y":0.540},{"x":-0.264,"y":0.492},{"x":-0.264,"y":0.473},{"x":-0.260,"y":0.424},{"x":-0.260,"y":0.410},{"x":-0.264,"y":0.405},{"x":-0.268,"y":0.384},{"x":-0.267,"y":0.345},{"x":-0.268,"y":0.330},{"x":-0.278,"y":0.330},{"x":-0.282,"y":0.363},{"x":-0.277,"y":0.515},
{"x":-0.3885,"y":0.281},{"x":-0.392,"y":0.328},{"x":-0.3895,"y":0.383},{"x":-0.391,"y":0.428},{"x":-0.388,"y":0.258},
{"x":-0.3835,"y":0.252},{"x":-0.387,"y":0.302},{"x":-0.3845,"y":0.348},{"x":-0.386,"y":0.403},{"x":-0.383,"y":0.447},{"x":-0.3855,"y":0.313},
{"x":-0.3785,"y":0.238},{"x":-0.382,"y":0.292},{"x":-0.3795,"y":0.342},{"x":-0.381,"y":0.388},{"x":-0.378,"y":0.442},{"x":-0.3805,"y":0.362},{"x":-0.379,"y":0.492},
{"x":-0.3735,"y":0.262},{"x":-0.377,"y":0.308},{"x":-0.3745,"y":0.353},{"x":-0.376,"y":0.398},{"x":-0.373,"y":0.452},{"x":-0.3755,"y":0.328},{"x":-0.374,"y":0.222},
{"x":-0.3685,"y":0.243},{"x":-0.372,"y":0.282},{"x":-0.3695,"y":0.332},{"x":-0.371,"y":0.372},{"x":-0.368,"y":0.408},{"x":-0.3705,"y":0.462},{"x":-0.369,"y":0.498},{"x":-0.3715,"y":0.352},
{"x":-0.3635,"y":0.232},{"x":-0.367,"y":0.268},{"x":-0.3645,"y":0.312},{"x":-0.366,"y":0.352},{"x":-0.363,"y":0.388},{"x":-0.3655,"y":0.432},{"x":-0.364,"y":0.472},{"x":-0.3665,"y":0.518},{"x":-0.365,"y":0.298},
{"x":-0.3585,"y":0.248},{"x":-0.362,"y":0.292},{"x":-0.3595,"y":0.328},{"x":-0.361,"y":0.372},{"x":-0.358,"y":0.412},{"x":-0.3605,"y":0.448},{"x":-0.359,"y":0.492},{"x":-0.3615,"y":0.538},{"x":-0.360,"y":0.392},{"x":-0.3578,"y":0.212},
{"x":-0.3535,"y":0.242},{"x":-0.357,"y":0.278},{"x":-0.3545,"y":0.322},{"x":-0.356,"y":0.362},{"x":-0.353,"y":0.398},{"x":-0.3555,"y":0.442},{"x":-0.354,"y":0.478},{"x":-0.3565,"y":0.522},{"x":-0.355,"y":0.418},{"x":-0.3528,"y":0.382},
{"x":-0.3485,"y":0.222},{"x":-0.352,"y":0.268},{"x":-0.3495,"y":0.312},{"x":-0.351,"y":0.348},{"x":-0.348,"y":0.382},{"x":-0.3505,"y":0.412},{"x":-0.349,"y":0.438},{"x":-0.3515,"y":0.472},{"x":-0.350,"y":0.508},{"x":-0.3478,"y":0.552},{"x":-0.3518,"y":0.398},{"x":-0.3492,"y":0.362},
{"x":-0.3435,"y":0.238},{"x":-0.347,"y":0.292},{"x":-0.3445,"y":0.328},{"x":-0.346,"y":0.372},{"x":-0.343,"y":0.392},{"x":-0.3455,"y":0.422},{"x":-0.344,"y":0.452},{"x":-0.3465,"y":0.488},{"x":-0.345,"y":0.532},{"x":-0.3428,"y":0.408},{"x":-0.3468,"y":0.352},
{"x":-0.3385,"y":0.232},{"x":-0.342,"y":0.278},{"x":-0.3395,"y":0.322},{"x":-0.341,"y":0.362},{"x":-0.338,"y":0.388},{"x":-0.3405,"y":0.412},{"x":-0.339,"y":0.442},{"x":-0.3415,"y":0.468},{"x":-0.340,"y":0.512},{"x":-0.3378,"y":0.428},{"x":-0.3418,"y":0.378},{"x":-0.3392,"y":0.558},
{"x":-0.3335,"y":0.262},{"x":-0.337,"y":0.298},{"x":-0.3345,"y":0.342},{"x":-0.336,"y":0.382},{"x":-0.333,"y":0.402},{"x":-0.3355,"y":0.428},{"x":-0.334,"y":0.462},{"x":-0.3365,"y":0.502},{"x":-0.335,"y":0.538},{"x":-0.3328,"y":0.418},{"x":-0.3368,"y":0.212},
{"x":-0.3285,"y":0.252},{"x":-0.332,"y":0.288},{"x":-0.3295,"y":0.332},{"x":-0.331,"y":0.368},{"x":-0.328,"y":0.398},{"x":-0.3305,"y":0.422},{"x":-0.329,"y":0.452},{"x":-0.3315,"y":0.478},{"x":-0.330,"y":0.522},{"x":-0.3278,"y":0.408},{"x":-0.3318,"y":0.568},
{"x":-0.3235,"y":0.272},{"x":-0.327,"y":0.308},{"x":-0.3245,"y":0.352},{"x":-0.326,"y":0.388},{"x":-0.323,"y":0.418},{"x":-0.3255,"y":0.442},{"x":-0.324,"y":0.472},{"x":-0.3265,"y":0.508},{"x":-0.325,"y":0.548},{"x":-0.3228,"y":0.402},
{"x":-0.3185,"y":0.262},{"x":-0.322,"y":0.298},{"x":-0.3195,"y":0.338},{"x":-0.321,"y":0.382},{"x":-0.318,"y":0.412},{"x":-0.3205,"y":0.432},{"x":-0.319,"y":0.462},{"x":-0.3215,"y":0.488},{"x":-0.320,"y":0.532},{"x":-0.3178,"y":0.422},{"x":-0.3218,"y":0.228},
{"x":-0.3135,"y":0.278},{"x":-0.317,"y":0.322},{"x":-0.3145,"y":0.362},{"x":-0.316,"y":0.398},{"x":-0.313,"y":0.428},{"x":-0.3155,"y":0.452},{"x":-0.314,"y":0.482},{"x":-0.3165,"y":0.518},{"x":-0.315,"y":0.558},{"x":-0.3128,"y":0.412},
{"x":-0.3085,"y":0.272},{"x":-0.312,"y":0.308},{"x":-0.3095,"y":0.352},{"x":-0.311,"y":0.388},{"x":-0.308,"y":0.422},{"x":-0.3105,"y":0.442},{"x":-0.309,"y":0.472},{"x":-0.3115,"y":0.502},{"x":-0.310,"y":0.538},{"x":-0.3078,"y":0.242},
{"x":-0.3035,"y":0.292},{"x":-0.307,"y":0.328},{"x":-0.3045,"y":0.372},{"x":-0.306,"y":0.408},{"x":-0.303,"y":0.442},{"x":-0.3055,"y":0.478},{"x":-0.304,"y":0.512},{"x":-0.3065,"y":0.548},{"x":-0.305,"y":0.392},
{"x":-0.2985,"y":0.302},{"x":-0.302,"y":0.338},{"x":-0.2995,"y":0.382},{"x":-0.301,"y":0.418},{"x":-0.298,"y":0.452},{"x":-0.3005,"y":0.488},{"x":-0.299,"y":0.532},{"x":-0.3015,"y":0.262},
{"x":-0.2935,"y":0.282},{"x":-0.297,"y":0.332},{"x":-0.2945,"y":0.368},{"x":-0.296,"y":0.412},{"x":-0.293,"y":0.458},{"x":-0.2955,"y":0.502},{"x":-0.294,"y":0.538},
{"x":-0.2885,"y":0.312},{"x":-0.292,"y":0.352},{"x":-0.2895,"y":0.398},{"x":-0.291,"y":0.442},{"x":-0.288,"y":0.478},{"x":-0.2905,"y":0.522},
{"x":-0.2835,"y":0.302},{"x":-0.287,"y":0.362},{"x":-0.2845,"y":0.408},{"x":-0.286,"y":0.452},{"x":-0.283,"y":0.498},{"x":-0.2855,"y":0.548},
{"x":-0.2785,"y":0.332},{"x":-0.282,"y":0.378},{"x":-0.2795,"y":0.428},{"x":-0.281,"y":0.472},{"x":-0.278,"y":0.518},
{"x":-0.2735,"y":0.352},{"x":-0.277,"y":0.402},{"x":-0.2745,"y":0.448},{"x":-0.276,"y":0.498},
{"x":-0.2685,"y":0.372},{"x":-0.272,"y":0.418},{"x":-0.2695,"y":0.478},
{"x":-0.2635,"y":0.398},{"x":-0.267,"y":0.462},
{"x":-0.358,"y":0.422},{"x":-0.356,"y":0.452},{"x":-0.354,"y":0.392},{"x":-0.352,"y":0.462},{"x":-0.350,"y":0.428},{"x":-0.348,"y":0.402},{"x":-0.346,"y":0.468},{"x":-0.344,"y":0.382},{"x":-0.342,"y":0.438},{"x":-0.340,"y":0.482},{"x":-0.338,"y":0.408},{"x":-0.336,"y":0.452},{"x":-0.334,"y":0.392},{"x":-0.332,"y":0.432},{"x":-0.330,"y":0.468},{"x":-0.328,"y":0.418},{"x":-0.326,"y":0.452},{"x":-0.324,"y":0.382},{"x":-0.322,"y":0.438},{"x":-0.320,"y":0.472},{"x":-0.318,"y":0.402},{"x":-0.316,"y":0.448},{"x":-0.314,"y":0.428},{"x":-0.312,"y":0.462},{"x":-0.310,"y":0.412},{"x":-0.308,"y":0.452},{"x":-0.306,"y":0.428},{"x":-0.304,"y":0.468},{"x":-0.302,"y":0.402},{"x":-0.300,"y":0.438},{"x":-0.362,"y":0.402},{"x":-0.364,"y":0.452},{"x":-0.366,"y":0.382},{"x":-0.368,"y":0.428},{"x":-0.370,"y":0.392},{"x":-0.372,"y":0.442},{"x":-0.374,"y":0.372},{"x":-0.347,"y":0.418},{"x":-0.343,"y":0.458},{"x":-0.337,"y":0.372},{"x":-0.333,"y":0.492},{"x":-0.327,"y":0.398},{"x":-0.321,"y":0.452},{"x":-0.315,"y":0.472},{"x":-0.309,"y":0.432},{"x":-0.353,"y":0.372},{"x":-0.357,"y":0.478},{"x":-0.331,"y":0.442},{"x":-0.319,"y":0.418},{"x":-0.341,"y":0.412}
],
"r3": [
{"x":-0.342,"y":0.338},{"x":-0.340,"y":0.352},{"x":-0.339,"y":0.325},{"x":-0.338,"y":0.362},{"x":-0.337,"y":0.345},{"x":-0.336,"y":0.370},{"x":-0.335,"y":0.332},{"x":-0.334,"y":0.355},{"x":-0.333,"y":0.318},{"x":-0.332,"y":0.348},{"x":-0.331,"y":0.375},{"x":-0.330,"y":0.338},{"x":-0.329,"y":0.360},{"x":-0.328,"y":0.322},{"x":-0.327,"y":0.350},{"x":-0.326,"y":0.382},{"x":-0.325,"y":0.335},{"x":-0.324,"y":0.358},{"x":-0.323,"y":0.312},{"x":-0.322,"y":0.345},{"x":-0.321,"y":0.368},{"x":-0.320,"y":0.328},{"x":-0.319,"y":0.352},{"x":-0.318,"y":0.305},{"x":-0.317,"y":0.340},{"x":-0.316,"y":0.362},{"x":-0.315,"y":0.322},{"x":-0.314,"y":0.348},{"x":-0.313,"y":0.312},{"x":-0.312,"y":0.335},{"x":-0.311,"y":0.298},{"x":-0.310,"y":0.318},{"x":-0.309,"y":0.330},{"x":-0.323,"y":0.378},{"x":-0.329,"y":0.341},{"x":-0.327,"y":0.302},{"x":-0.335,"y":0.305},{"x":-0.318,"y":0.330},{"x":-0.332,"y":0.365},{"x":-0.322,"y":0.338},{"x":-0.320,"y":0.358},{"x":-0.316,"y":0.310},{"x":-0.325,"y":0.348}
],
"b4": [
{"x":-0.266,"y":0.113},{"x":-0.247,"y":0.095},{"x":-0.233,"y":0.093},{"x":-0.217,"y":0.146},{"x":-0.213,"y":0.099},{"x":-0.209,"y":0.058},{"x":-0.208,"y":0.058},{"x":-0.203,"y":0.136},{"x":-0.203,"y":0.112},{"x":-0.200,"y":0.123},{"x":-0.199,"y":0.098},{"x":-0.198,"y":0.061},{"x":-0.197,"y":0.130},{"x":-0.195,"y":0.131},{"x":-0.194,"y":0.049},{"x":-0.194,"y":0.094},{"x":-0.194,"y":0.035},{"x":-0.192,"y":0.066},{"x":-0.190,"y":0.066},{"x":-0.189,"y":0.123},{"x":-0.188,"y":0.041},{"x":-0.186,"y":0.033},{"x":-0.186,"y":0.060},{"x":-0.184,"y":0.163},{"x":-0.184,"y":-0.015},{"x":-0.183,"y":0.087},{"x":-0.182,"y":0.138},{"x":-0.181,"y":0.121},{"x":-0.181,"y":0.046},{"x":-0.180,"y":0.035},{"x":-0.180,"y":0.026},{"x":-0.179,"y":0.103},{"x":-0.175,"y":0.052},{"x":-0.173,"y":0.024},{"x":-0.173,"y":0.123},{"x":-0.172,"y":0.036},{"x":-0.170,"y":0.043},{"x":-0.170,"y":0.015},{"x":-0.169,"y":0.012},{"x":-0.168,"y":0.043},{"x":-0.167,"y":0.132},{"x":-0.161,"y":-0.008},{"x":-0.161,"y":0.013},{"x":-0.159,"y":0.138},{"x":-0.157,"y":0.112},{"x":-0.154,"y":0.135},{"x":-0.154,"y":0.122},{"x":-0.154,"y":-0.007},{"x":-0.149,"y":0.148},{"x":-0.149,"y":0.222},{"x":-0.148,"y":0.132},{"x":-0.147,"y":0.121},{"x":-0.146,"y":-0.012},{"x":-0.144,"y":0.135},{"x":-0.142,"y":0.123},{"x":-0.138,"y":0.122},{"x":-0.137,"y":0.159},{"x":-0.136,"y":0.137},{"x":-0.134,"y":-0.053},{"x":-0.131,"y":-0.017},{"x":-0.130,"y":-0.027},{"x":-0.129,"y":0.127},{"x":-0.128,"y":0.138},{"x":-0.125,"y":0.176},{"x":-0.124,"y":0.119},{"x":-0.123,"y":0.123},{"x":-0.121,"y":0.139},{"x":-0.121,"y":-0.031},{"x":-0.121,"y":0.197},{"x":-0.117,"y":-0.062},{"x":-0.115,"y":0.143},{"x":-0.113,"y":0.127},{"x":-0.112,"y":0.183},{"x":-0.109,"y":0.200},{"x":-0.108,"y":0.124},{"x":-0.105,"y":0.166},{"x":-0.104,"y":0.123},{"x":-0.102,"y":-0.036},{"x":-0.098,"y":-0.034},{"x":-0.093,"y":0.171},{"x":-0.092,"y":0.122},{"x":-0.090,"y":0.115},{"x":-0.087,"y":0.106},{"x":-0.086,"y":0.107},{"x":-0.082,"y":0.122},{"x":-0.081,"y":0.122},{"x":-0.078,"y":0.149},{"x":-0.072,"y":0.152},{"x":-0.075,"y":0.103},{"x":-0.072,"y":0.095},{"x":-0.076,"y":-0.037},{"x":-0.075,"y":-0.042},{"x":-0.058,"y":0.094},{"x":-0.055,"y":0.092},{"x":-0.051,"y":0.078},{"x":-0.050,"y":0.175},{"x":-0.048,"y":0.088},{"x":-0.044,"y":0.081},{"x":-0.043,"y":0.012},{"x":-0.040,"y":0.153},{"x":-0.039,"y":0.097},{"x":-0.034,"y":0.101},{"x":-0.035,"y":0.006},{"x":-0.030,"y":0.028},{"x":-0.028,"y":0.048},{"x":-0.026,"y":-0.012},{"x":-0.024,"y":0.075},{"x":-0.023,"y":0.028},{"x":-0.024,"y":0.018},{"x":-0.020,"y":0.113},{"x":-0.019,"y":0.088},{"x":-0.013,"y":0.000},{"x":-0.013,"y":0.031},{"x":-0.011,"y":0.054},{"x":-0.010,"y":0.029},{"x":-0.001,"y":0.052},{"x":-0.038,"y":0.044},{"x":-0.041,"y":0.060},{"x":-0.043,"y":0.043},{"x":-0.047,"y":0.065},{"x":-0.047,"y":0.072},{"x":-0.051,"y":0.052},{"x":-0.059,"y":0.061},{"x":-0.057,"y":0.021},{"x":-0.057,"y":-0.003},{"x":-0.063,"y":0.010},{"x":-0.068,"y":-0.009},{"x":-0.074,"y":-0.009},{"x":-0.066,"y":-0.018},{"x":-0.073,"y":-0.021},{"x":-0.080,"y":-0.022},{"x":-0.088,"y":-0.020},{"x":-0.094,"y":-0.011},
{"x":-0.1635,"y":0.021},{"x":-0.167,"y":0.042},{"x":-0.1645,"y":0.058},{"x":-0.166,"y":0.076},
{"x":-0.1585,"y":0.016},{"x":-0.162,"y":0.034},{"x":-0.1595,"y":0.052},{"x":-0.161,"y":0.069},{"x":-0.158,"y":0.086},
{"x":-0.1535,"y":0.011},{"x":-0.157,"y":0.031},{"x":-0.1545,"y":0.044},{"x":-0.156,"y":0.061},{"x":-0.153,"y":0.074},{"x":-0.1555,"y":0.022},
{"x":-0.1485,"y":0.006},{"x":-0.152,"y":0.026},{"x":-0.1495,"y":0.039},{"x":-0.151,"y":0.056},{"x":-0.148,"y":0.069},{"x":-0.1505,"y":0.081},{"x":-0.149,"y":0.016},
{"x":-0.1435,"y":0.012},{"x":-0.147,"y":0.028},{"x":-0.1445,"y":0.043},{"x":-0.146,"y":0.057},{"x":-0.143,"y":0.068},{"x":-0.1455,"y":0.035},{"x":-0.144,"y":-0.008},
{"x":-0.1385,"y":0.001},{"x":-0.142,"y":0.018},{"x":-0.1395,"y":0.031},{"x":-0.141,"y":0.046},{"x":-0.138,"y":0.059},{"x":-0.1405,"y":0.072},{"x":-0.139,"y":0.038},
{"x":-0.1335,"y":-0.005},{"x":-0.137,"y":0.011},{"x":-0.1345,"y":0.024},{"x":-0.136,"y":0.038},{"x":-0.133,"y":0.051},{"x":-0.1355,"y":0.064},{"x":-0.134,"y":0.078},{"x":-0.1365,"y":0.044},
{"x":-0.1285,"y":0.002},{"x":-0.132,"y":0.015},{"x":-0.1295,"y":0.028},{"x":-0.131,"y":0.041},{"x":-0.128,"y":0.052},{"x":-0.1305,"y":0.063},{"x":-0.129,"y":0.075},{"x":-0.1315,"y":0.034},{"x":-0.130,"y":-0.015},
{"x":-0.1235,"y":-0.010},{"x":-0.127,"y":0.006},{"x":-0.1245,"y":0.020},{"x":-0.126,"y":0.032},{"x":-0.123,"y":0.044},{"x":-0.1255,"y":0.055},{"x":-0.124,"y":0.067},{"x":-0.1265,"y":0.080},{"x":-0.125,"y":0.038},{"x":-0.1228,"y":0.025},
{"x":-0.1185,"y":-0.005},{"x":-0.122,"y":0.010},{"x":-0.1195,"y":0.022},{"x":-0.121,"y":0.034},{"x":-0.118,"y":0.046},{"x":-0.1205,"y":0.057},{"x":-0.119,"y":0.070},{"x":-0.1215,"y":0.085},{"x":-0.120,"y":0.040},{"x":-0.1178,"y":0.018},
{"x":-0.1135,"y":-0.012},{"x":-0.117,"y":0.004},{"x":-0.1145,"y":0.016},{"x":-0.116,"y":0.028},{"x":-0.113,"y":0.038},{"x":-0.1155,"y":0.048},{"x":-0.114,"y":0.058},{"x":-0.1165,"y":0.068},{"x":-0.115,"y":0.078},{"x":-0.1128,"y":0.032},{"x":-0.1168,"y":0.052},
{"x":-0.1085,"y":-0.008},{"x":-0.112,"y":0.008},{"x":-0.1095,"y":0.020},{"x":-0.111,"y":0.030},{"x":-0.108,"y":0.040},{"x":-0.1105,"y":0.050},{"x":-0.109,"y":0.060},{"x":-0.1115,"y":0.072},{"x":-0.110,"y":0.088},{"x":-0.1078,"y":0.036},{"x":-0.1118,"y":0.045},
{"x":-0.1035,"y":-0.018},{"x":-0.107,"y":0.000},{"x":-0.1045,"y":0.012},{"x":-0.106,"y":0.024},{"x":-0.103,"y":0.034},{"x":-0.1055,"y":0.044},{"x":-0.104,"y":0.054},{"x":-0.1065,"y":0.064},{"x":-0.105,"y":0.076},{"x":-0.1028,"y":0.040},{"x":-0.1068,"y":0.028},
{"x":-0.0985,"y":-0.010},{"x":-0.102,"y":0.005},{"x":-0.0995,"y":0.016},{"x":-0.101,"y":0.027},{"x":-0.098,"y":0.037},{"x":-0.1005,"y":0.047},{"x":-0.099,"y":0.057},{"x":-0.1015,"y":0.068},{"x":-0.100,"y":0.080},{"x":-0.0978,"y":0.042},
{"x":-0.0935,"y":-0.015},{"x":-0.097,"y":0.002},{"x":-0.0945,"y":0.014},{"x":-0.096,"y":0.025},{"x":-0.093,"y":0.035},{"x":-0.0955,"y":0.045},{"x":-0.094,"y":0.055},{"x":-0.0965,"y":0.066},{"x":-0.095,"y":0.030},
{"x":-0.0885,"y":-0.005},{"x":-0.092,"y":0.008},{"x":-0.0895,"y":0.020},{"x":-0.091,"y":0.030},{"x":-0.088,"y":0.040},{"x":-0.0905,"y":0.050},{"x":-0.089,"y":0.062},{"x":-0.0915,"y":0.075},{"x":-0.090,"y":0.036},
{"x":-0.0835,"y":-0.012},{"x":-0.087,"y":0.004},{"x":-0.0845,"y":0.016},{"x":-0.086,"y":0.028},{"x":-0.083,"y":0.038},{"x":-0.0855,"y":0.048},{"x":-0.084,"y":0.060},{"x":-0.0865,"y":0.070},
{"x":-0.0785,"y":0.000},{"x":-0.082,"y":0.012},{"x":-0.0795,"y":0.024},{"x":-0.081,"y":0.034},{"x":-0.078,"y":0.044},{"x":-0.0805,"y":0.056},{"x":-0.079,"y":0.068},
{"x":-0.0735,"y":-0.005},{"x":-0.077,"y":0.010},{"x":-0.0745,"y":0.022},{"x":-0.076,"y":0.032},{"x":-0.073,"y":0.045},{"x":-0.0755,"y":0.058},{"x":-0.074,"y":0.075},
{"x":-0.0685,"y":0.005},{"x":-0.072,"y":0.018},{"x":-0.0695,"y":0.030},{"x":-0.071,"y":0.042},{"x":-0.068,"y":0.055},{"x":-0.0705,"y":0.068},
{"x":-0.0635,"y":0.000},{"x":-0.067,"y":0.015},{"x":-0.0645,"y":0.028},{"x":-0.066,"y":0.040},{"x":-0.063,"y":0.052},
{"x":-0.0585,"y":0.010},{"x":-0.062,"y":0.022},{"x":-0.0595,"y":0.035},{"x":-0.061,"y":0.048},
{"x":-0.0535,"y":0.018},{"x":-0.057,"y":0.030},{"x":-0.0545,"y":0.044},
{"x":-0.0485,"y":0.012},{"x":-0.052,"y":0.025},{"x":-0.0495,"y":0.038},
{"x":-0.124,"y":0.028},{"x":-0.122,"y":0.048},{"x":-0.120,"y":0.015},{"x":-0.118,"y":0.036},{"x":-0.116,"y":0.058},{"x":-0.114,"y":0.022},{"x":-0.112,"y":0.042},{"x":-0.110,"y":0.012},{"x":-0.108,"y":0.032},{"x":-0.106,"y":0.052},{"x":-0.104,"y":0.018},{"x":-0.102,"y":0.038},{"x":-0.100,"y":0.058},{"x":-0.098,"y":0.022},{"x":-0.096,"y":0.042},{"x":-0.094,"y":0.012},{"x":-0.092,"y":0.032},{"x":-0.090,"y":0.052},{"x":-0.088,"y":0.018},{"x":-0.086,"y":0.038},{"x":-0.084,"y":0.025},{"x":-0.082,"y":0.048},{"x":-0.119,"y":0.062},{"x":-0.113,"y":0.005},{"x":-0.107,"y":0.068},{"x":-0.101,"y":0.002},{"x":-0.097,"y":0.062},{"x":-0.091,"y":0.002},{"x":-0.087,"y":0.058},{"x":-0.128,"y":0.038},{"x":-0.132,"y":0.058},{"x":-0.136,"y":0.028},{"x":-0.140,"y":0.052},{"x":-0.144,"y":0.022},{"x":-0.148,"y":0.048},{"x":-0.115,"y":0.033},{"x":-0.109,"y":0.025},{"x":-0.103,"y":0.045},{"x":-0.099,"y":0.030},{"x":-0.093,"y":0.048},{"x":-0.111,"y":0.055},{"x":-0.105,"y":0.008},{"x":-0.117,"y":0.010},{"x":-0.121,"y":0.040},{"x":-0.079,"y":0.030},{"x":-0.076,"y":0.050},{"x":-0.071,"y":0.025},{"x":-0.126,"y":0.050},{"x":-0.131,"y":0.020},{"x":-0.095,"y":0.020}
],
"r4": [
{"x":-0.181,"y":0.083},{"x":-0.179,"y":0.074},{"x":-0.178,"y":0.081},{"x":-0.177,"y":0.092},{"x":-0.176,"y":0.066},{"x":-0.175,"y":0.090},{"x":-0.175,"y":0.064},{"x":-0.174,"y":0.078},{"x":-0.172,"y":0.085},{"x":-0.170,"y":0.072},{"x":-0.168,"y":0.095},{"x":-0.167,"y":0.082},{"x":-0.166,"y":0.088},{"x":-0.165,"y":0.076},{"x":-0.164,"y":0.098},{"x":-0.163,"y":0.116},{"x":-0.163,"y":0.063},{"x":-0.162,"y":0.084},{"x":-0.161,"y":0.092},{"x":-0.160,"y":0.078},{"x":-0.159,"y":0.102},{"x":-0.158,"y":0.086},{"x":-0.157,"y":0.071},{"x":-0.156,"y":0.094},{"x":-0.155,"y":0.082},{"x":-0.154,"y":0.089},{"x":-0.153,"y":0.076},{"x":-0.152,"y":0.098},{"x":-0.151,"y":0.056},{"x":-0.151,"y":0.085},{"x":-0.150,"y":0.079},{"x":-0.149,"y":0.092},{"x":-0.148,"y":0.072},{"x":-0.147,"y":0.086},{"x":-0.146,"y":0.080},{"x":-0.145,"y":0.095},{"x":-0.144,"y":0.078},{"x":-0.143,"y":0.084},{"x":-0.142,"y":0.072},{"x":-0.141,"y":0.063},{"x":-0.140,"y":0.088},{"x":-0.130,"y":0.092},{"x":-0.158,"y":0.105},{"x":-0.165,"y":0.070},{"x":-0.170,"y":0.090}
]
},
"concat": [
 {"width": 472, "height": 286,
  "view": {"stroke": null},
  "title": {"text": "Auto-encoder for MVN(A09)", "dx": -2},
  "layer": [
   {"data": {"values": [{}]},
    "mark": {"type": "rect", "fillOpacity": 0, "stroke": "#000", "strokeWidth": 1},
    "encoding": {
     "x": {"datum": -0.522, "type": "quantitative", "scale": {"domain": [-0.5672, 0.0794], "nice": false, "zero": false}, "axis": {"values": [-0.4, -0.2, 0.0], "format": ".1f", "title": "Latent component 1", "titleX": 252}},
     "x2": {"datum": 0.0794},
     "y": {"datum": -0.564, "type": "quantitative", "scale": {"domain": [-0.564, 0.911], "nice": false, "zero": false}, "axis": {"values": [-0.5, -0.25, 0, 0.25, 0.5, 0.75], "format": ".2f", "title": "Latent component 2", "offset": -33}},
     "y2": {"datum": 0.911}}},
   {"data": {"name": "b1"}, "mark": {"type": "point", "shape": "circle", "filled": false, "color": "#0000ff", "opacity": 0.55, "size": 44, "strokeWidth": 1.1},
    "encoding": {
     "x": {"field": "x", "type": "quantitative"},
     "y": {"field": "y", "type": "quantitative"}}},
   {"data": {"name": "r1"}, "mark": {"type": "point", "shape": "M-1,-1L1,1M-1,1L1,-1", "filled": false, "color": "#ff0000", "opacity": 1, "size": 110, "strokeWidth": 1.4},
    "encoding": {
     "x": {"field": "x", "type": "quantitative"},
     "y": {"field": "y", "type": "quantitative"}}}
  ]},
 {"width": 472, "height": 286,
  "title": {"text": "Auto-encoder for MVN(hCN)"},
  "layer": [
   {"data": {"name": "b2"}, "mark": {"type": "point", "shape": "circle", "filled": false, "color": "#0000ff", "opacity": 0.55, "size": 44, "strokeWidth": 1.1},
    "encoding": {
     "x": {"field": "x", "type": "quantitative", "scale": {"domain": [-0.565, -0.174], "nice": false, "zero": false}, "axis": {"values": [-0.5, -0.4, -0.3, -0.2], "format": ".1f", "title": "Latent component 1"}},
     "y": {"field": "y", "type": "quantitative", "scale": {"domain": [0.153, 0.653], "nice": false, "zero": false}, "axis": {"values": [0.2, 0.3, 0.4, 0.5, 0.6], "format": ".1f", "title": "Latent component 2"}}}},
   {"data": {"name": "r2"}, "mark": {"type": "point", "shape": "M-1,-1L1,1M-1,1L1,-1", "filled": false, "color": "#ff0000", "opacity": 1, "size": 110, "strokeWidth": 1.4},
    "encoding": {
     "x": {"field": "x", "type": "quantitative", "scale": {"domain": [-0.565, -0.174], "nice": false, "zero": false}},
     "y": {"field": "y", "type": "quantitative", "scale": {"domain": [0.153, 0.653], "nice": false, "zero": false}}}}
  ]},
 {"width": 441, "height": 287,
  "title": {"text": "Auto-encoder for ELL(t(5))", "dx": 16},
  "layer": [
   {"data": {"name": "b3"}, "mark": {"type": "point", "shape": "circle", "filled": false, "color": "#0000ff", "opacity": 0.55, "size": 44, "strokeWidth": 1.1},
    "encoding": {
     "x": {"field": "x", "type": "quantitative", "scale": {"domain": [-0.458, -0.1984], "nice": false, "zero": false}, "axis": {"values": [-0.45, -0.4, -0.35, -0.3, -0.25, -0.2], "format": ".2f", "title": "Latent component 1"}},
     "y": {"field": "y", "type": "quantitative", "scale": {"domain": [-0.064, 0.727], "nice": false, "zero": false}, "axis": {"values": [0, 0.2, 0.4, 0.6], "format": ".1f", "title": "Latent component 2"}}}},
   {"data": {"name": "r3"}, "mark": {"type": "point", "shape": "M-1,-1L1,1M-1,1L1,-1", "filled": false, "color": "#ff0000", "opacity": 1, "size": 110, "strokeWidth": 1.4},
    "encoding": {
     "x": {"field": "x", "type": "quantitative", "scale": {"domain": [-0.458, -0.1984], "nice": false, "zero": false}},
     "y": {"field": "y", "type": "quantitative", "scale": {"domain": [-0.064, 0.727], "nice": false, "zero": false}}}}
  ]},
 {"width": 466, "height": 287,
  "title": {"text": "Auto-encoder for EXP", "dx": 3},
  "layer": [
   {"data": {"name": "b4"}, "mark": {"type": "point", "shape": "circle", "filled": false, "color": "#0000ff", "opacity": 0.55, "size": 44, "strokeWidth": 1.1},
    "encoding": {
     "x": {"field": "x", "type": "quantitative", "scale": {"domain": [-0.2794, 0.0117], "nice": false, "zero": false}, "axis": {"values": [-0.25, -0.2, -0.15, -0.1, -0.05, 0], "format": ".2f", "title": "Latent component 1"}},
     "y": {"field": "y", "type": "quantitative", "scale": {"domain": [-0.0755, 0.2353], "nice": false, "zero": false}, "axis": {"values": [0, 0.1, 0.2], "format": ".1f", "title": "Latent component 2"}}}},
   {"data": {"name": "r4"}, "mark": {"type": "point", "shape": "M-1,-1L1,1M-1,1L1,-1", "filled": false, "color": "#ff0000", "opacity": 1, "size": 110, "strokeWidth": 1.4},
    "encoding": {
     "x": {"field": "x", "type": "quantitative", "scale": {"domain": [-0.2794, 0.0117], "nice": false, "zero": false}},
     "y": {"field": "y", "type": "quantitative", "scale": {"domain": [-0.0755, 0.2353], "nice": false, "zero": false}}}}
  ]}
],
"columns": 2,
"spacing": {"row": 32, "column": 66}
}
